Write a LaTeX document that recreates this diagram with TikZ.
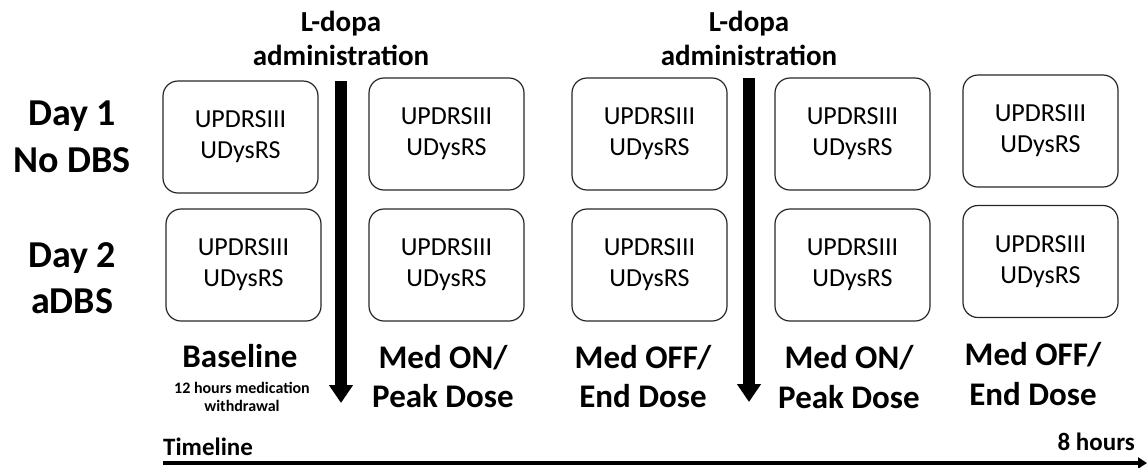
\documentclass[tikz,border=0pt]{standalone}
\usepackage{fontspec}
\setmainfont{Carlito}
\usetikzlibrary{arrows.meta}
\begin{document}
\begin{tikzpicture}[x=1pt,y=-1pt,
  box/.style={draw=black!85, line width=1.2pt, rounded corners=15pt,
    minimum width=155pt, minimum height=112pt, inner sep=0pt, align=center,
    font=\fontsize{26}{31}\selectfont},
  big/.style={font=\bfseries\fontsize{38}{46}\selectfont, anchor=base, inner sep=0pt},
  phase/.style={font=\bfseries\fontsize{33}{40}\selectfont, anchor=base, inner sep=0pt},
  note/.style={font=\bfseries\fontsize{16}{18}\selectfont, anchor=base, inner sep=0pt},
  ldopa/.style={font=\bfseries\fontsize{29}{35}\selectfont, anchor=base, inner sep=0pt},
  tl/.style={font=\bfseries\fontsize{25}{30}\selectfont, inner sep=0pt},
  dose/.style={line width=12pt, -{Triangle[width=23pt,length=18pt]}},
  timeax/.style={line width=3.5pt, -{Triangle[width=11pt,length=9pt]}},
]
\useasboundingbox (0,0) rectangle (1148,467);

% row labels
\node[big] (d1a) at (72,125) {Day 1};
\node[big] (d1b) at (72,172) {No DBS};
\node[big] (d2a) at (72,267) {Day 2};
\node[big] (d2b) at (72,313) {aDBS};

% boxes
\node[box] (r1c1) at (240.5,137) {UPDRSIII\\UDysRS};
\node[box] (r1c2) at (446.5,134) {UPDRSIII\\UDysRS};
\node[box] (r1c3) at (649.5,134) {UPDRSIII\\UDysRS};
\node[box] (r1c4) at (852.5,134) {UPDRSIII\\UDysRS};
\node[box] (r1c5) at (1040.5,131) {UPDRSIII\\UDysRS};
\node[box] (r2c1) at (243.5,265) {UPDRSIII\\UDysRS};
\node[box] (r2c2) at (446.5,265) {UPDRSIII\\UDysRS};
\node[box] (r2c3) at (649.5,265) {UPDRSIII\\UDysRS};
\node[box] (r2c4) at (852.5,265) {UPDRSIII\\UDysRS};
\node[box] (r2c5) at (1040.5,261.5) {UPDRSIII\\UDysRS};

% L-dopa labels and arrows
\node[ldopa] (l1a) at (341,31) {L-dopa};
\node[ldopa] (l1b) at (341,65) {administration};
\node[ldopa] (l2a) at (749,31) {L-dopa};
\node[ldopa] (l2b) at (749,65) {administration};
\coordinate (a1s) at (341,81);
\coordinate (a1e) at (341,403);
\coordinate (a2s) at (749,78);
\coordinate (a2e) at (749,402);
\draw[dose] (a1s) -- (a1e);
\draw[dose] (a2s) -- (a2e);

% phase labels
\node[phase] (p1a) at (240,367) {Baseline};
\node[note] (p1b) at (242,393) {12 hours medication};
\node[note] (p1c) at (242,411) {withdrawal};
\node[phase] (p2a) at (443,368) {Med ON/};
\node[phase] (p2b) at (443,407) {Peak Dose};
\node[phase] (p3a) at (643,368) {Med OFF/};
\node[phase] (p3b) at (643,407) {End Dose};
\node[phase] (p4a) at (849,368) {Med ON/};
\node[phase] (p4b) at (849,408) {Peak Dose};
\node[phase] (p5a) at (1033,365) {Med OFF/};
\node[phase] (p5b) at (1033,405) {End Dose};

% timeline
\node[tl, anchor=base west] (tlab) at (163,455) {Timeline};
\node[tl, anchor=base east] (hlab) at (1135,450) {8 hours};
\coordinate (t0) at (163,463);
\coordinate (t1) at (1147,463);
\draw[timeax] (t0) -- (t1);
\end{tikzpicture}
\end{document}
